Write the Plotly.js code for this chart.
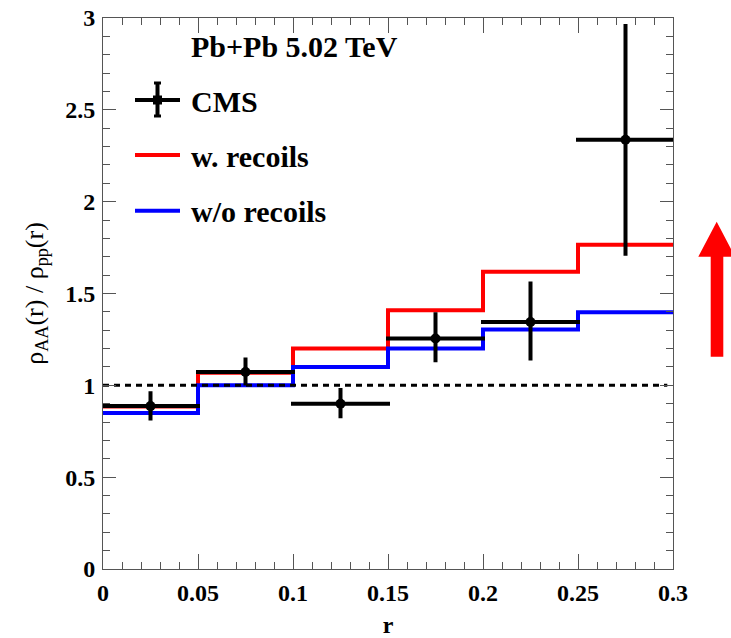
<!DOCTYPE html>
<html>
<head>
<meta charset="utf-8">
<script src="https://cdn.plot.ly/plotly-3.0.1.min.js"></script>
<style>html,body{margin:0;padding:0;background:#fff;}#chart{width:731px;height:638px;}</style>
</head>
<body>
<div id="chart"></div>
<script>
// Bin edges in r and bin centres
const binEdges = [0, 0.05, 0.1, 0.15, 0.2, 0.25, 0.3];
const binCenters = [0.025, 0.075, 0.125, 0.175, 0.225, 0.275];
// Model step histograms (one value per bin)
const withRecoils = [0.885, 1.068, 1.20, 1.409, 1.619, 1.766];
const withoutRecoils = [0.85, 1.00, 1.10, 1.20, 1.304, 1.398];
// CMS data
const cmsValues = [0.887, 1.073, 0.90, 1.255, 1.345, 2.337];
const cmsErrPlus = [0.07, 0.068, 0.074, 0.132, 0.209, 0.62];
const cmsErrMinus = [0.067, 0.063, 0.068, 0.118, 0.199, 0.62];
const cmsHalfWidth = [0.025, 0.025, 0.025, 0.025, 0.025, 0.025];
// Reference line
const refX = [0, 0.297];
const refY = [1, 1];
// Tick labels
const xTicks = [0, 0.05, 0.1, 0.15, 0.2, 0.25, 0.3];
const xTickText = ['0', '0.05', '0.1', '0.15', '0.2', '0.25', '0.3'];
const yTicks = [0, 0.5, 1, 1.5, 2, 2.5, 3];
const yTickText = ['0', '0.5', '1', '1.5', '2', '2.5', '3'];

const stepY = v => v.concat([v[v.length - 1]]);
const serif = 'Liberation Serif, Times New Roman, serif';
const axisCol = '#555';

const traces = [
  {x: binEdges, y: stepY(withRecoils), mode: 'lines', line: {shape: 'hv', color: '#ff0000', width: 4}, name: 'w. recoils'},
  {x: binEdges, y: stepY(withoutRecoils), mode: 'lines', line: {shape: 'hv', color: '#0000ff', width: 4}, name: 'w/o recoils'},
  {x: refX, y: refY, mode: 'lines', line: {color: '#000', width: 3, dash: '6px,5px'}, name: 'ref'},
  {x: binCenters, y: cmsValues, mode: 'markers', name: 'CMS',
   marker: {color: '#000', size: 10, symbol: 'circle'},
   error_y: {type: 'data', symmetric: false, array: cmsErrPlus, arrayminus: cmsErrMinus, color: '#000', thickness: 4, width: 2},
   error_x: {type: 'data', array: cmsHalfWidth, color: '#000', thickness: 4, width: 2}}
];

const L = 103, R = 58, T = 18, B = 69;
const W = 731, H = 638;
const pw = W - L - R, ph = H - T - B;
const px = v => (v - L) / pw;
const py = v => (H - B - v) / ph;

const shapes = [
  // legend: CMS cross
  {type: 'line', xref: 'paper', yref: 'paper', x0: px(135), x1: px(180), y0: py(100), y1: py(100), line: {color: '#000', width: 4}},
  {type: 'line', xref: 'paper', yref: 'paper', x0: px(157.5), x1: px(157.5), y0: py(82), y1: py(117), line: {color: '#000', width: 4}},
  {type: 'line', xref: 'paper', yref: 'paper', x0: px(154), x1: px(161), y0: py(83), y1: py(83), line: {color: '#000', width: 3}},
  {type: 'line', xref: 'paper', yref: 'paper', x0: px(154), x1: px(161), y0: py(116), y1: py(116), line: {color: '#000', width: 3}},
  {type: 'rect', xref: 'paper', yref: 'paper', x0: px(153), x1: px(162), y0: py(104.5), y1: py(95.5), fillcolor: '#000', line: {width: 0}},
  // legend: red and blue lines
  {type: 'line', xref: 'paper', yref: 'paper', x0: px(135), x1: px(180), y0: py(155), y1: py(155), line: {color: '#ff0000', width: 4}},
  {type: 'line', xref: 'paper', yref: 'paper', x0: px(135), x1: px(180), y0: py(210.7), y1: py(210.7), line: {color: '#0000ff', width: 4}},
  // red arrow on the right
  {type: 'path', xref: 'paper', yref: 'paper',
   path: 'M ' + px(710.7) + ',' + py(356.7) + ' L ' + px(710.7) + ',' + py(256.7) + ' L ' + px(698.3) + ',' + py(256.7) +
         ' L ' + px(716.7) + ',' + py(221.7) + ' L ' + px(735) + ',' + py(256.7) + ' L ' + px(723.3) + ',' + py(256.7) +
         ' L ' + px(723.3) + ',' + py(356.7) + ' Z',
   fillcolor: '#ff0000', line: {width: 0}}
];

const legFont = {family: serif, size: 30, color: '#000', weight: 'bold'};
const annotations = [
  {xref: 'paper', yref: 'paper', x: px(189), y: py(46), xanchor: 'left', yanchor: 'middle', text: '<b>Pb+Pb 5.02 TeV</b>', showarrow: false, font: legFont},
  {xref: 'paper', yref: 'paper', x: px(189), y: py(101), xanchor: 'left', yanchor: 'middle', text: '<b>CMS</b>', showarrow: false, font: legFont},
  {xref: 'paper', yref: 'paper', x: px(189), y: py(156), xanchor: 'left', yanchor: 'middle', text: '<b>w. recoils</b>', showarrow: false, font: legFont},
  {xref: 'paper', yref: 'paper', x: px(189), y: py(211), xanchor: 'left', yanchor: 'middle', text: '<b>w/o recoils</b>', showarrow: false, font: legFont}
];

const tickFont = {family: serif, size: 24, color: '#000', weight: 'bold'};

const layout = {
  width: W, height: H,
  margin: {l: L, r: R, t: T, b: B, pad: 0},
  paper_bgcolor: '#fff', plot_bgcolor: '#fff',
  showlegend: false,
  xaxis: {
    range: [0, 0.3], tickmode: 'array', tickvals: xTicks, ticktext: xTickText,
    ticks: 'inside', ticklen: 15, tickwidth: 1, tickcolor: axisCol,
    minor: {dtick: 0.01, ticks: 'inside', ticklen: 7, tickwidth: 1, tickcolor: axisCol, showgrid: false},
    showline: true, linecolor: axisCol, linewidth: 1, mirror: 'ticks',
    showgrid: false, zeroline: false, tickfont: tickFont, ticklabelstandoff: 2,
    title: {text: '<b>r</b>', font: {family: serif, size: 24, color: '#000'}, standoff: 20}
  },
  yaxis: {
    range: [0, 3], tickmode: 'array', tickvals: yTicks, ticktext: yTickText,
    ticks: 'inside', ticklen: 13, tickwidth: 1, tickcolor: axisCol,
    minor: {dtick: 0.1, ticks: 'inside', ticklen: 7, tickwidth: 1, tickcolor: axisCol, showgrid: false},
    showline: true, linecolor: axisCol, linewidth: 1, mirror: 'ticks',
    showgrid: false, zeroline: false, tickfont: tickFont, ticklabelstandoff: 2,
    title: {text: 'ρ<sub>AA</sub>(r) / ρ<sub>pp</sub>(r)', font: {family: serif, size: 26, color: '#000'}, standoff: 14}
  },
  shapes: shapes,
  annotations: annotations
};

Plotly.newPlot('chart', traces, layout, {displayModeBar: false, staticPlot: true});
</script>
</body>
</html>
